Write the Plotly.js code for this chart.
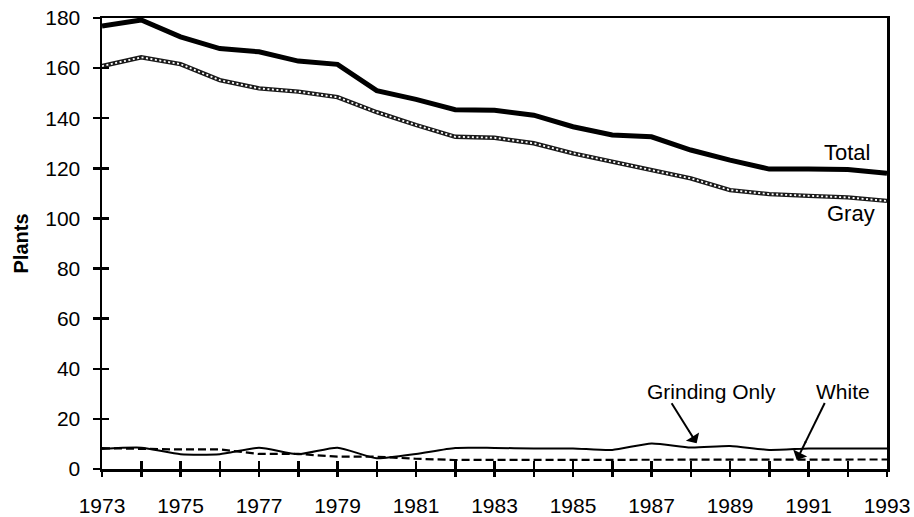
<!DOCTYPE html>
<html>
<head>
<meta charset="utf-8">
<script src="https://cdn.plot.ly/plotly-3.0.1.min.js"></script>
<style>html,body{margin:0;padding:0;background:#fff;}#chart{width:914px;height:517px;}</style>
</head>
<body>
<div id="chart"></div>
<script>
const years = [1973,1974,1975,1976,1977,1978,1979,1980,1981,1982,1983,1984,1985,1986,1987,1988,1989,1990,1991,1992,1993];
const total = [176.8,179.2,172.5,167.8,166.5,162.8,161.5,151,147.5,143.4,143.2,141.2,136.6,133.3,132.6,127.3,123.3,119.7,119.7,119.5,118];
const gray = [160.8,164.3,161.6,155.2,151.9,150.6,148.4,142.4,137.3,132.6,132.2,130,126,122.8,119.3,116,111.3,109.7,109,108.4,107];
const grindingOnly = [8.0,8.5,5.9,5.9,8.5,5.9,8.5,4.3,6.0,8.4,8.4,8.2,8.2,7.6,10.2,8.6,9.2,7.6,8.2,8.2,8.2];
const white = [8.3,8.0,7.8,7.8,6.0,6.0,4.9,4.9,4.1,3.6,3.6,3.8,3.8,3.8,3.8,3.8,3.8,3.8,3.8,3.8,3.8];
const tickLabels = years.map((y,i)=> i%2===0 ? String(y) : '');
const yTicks = [0,20,40,60,80,100,120,140,160,180];

const FONT = 'Liberation Sans, Arial, Helvetica, sans-serif';

const traces = [
  {x: years, y: white, mode:'lines', line:{color:'#000', width:2.2, dash:'8px,4px'}, hoverinfo:'skip', showlegend:false},
  {x: years, y: grindingOnly, mode:'lines', line:{color:'#000', width:2, shape:'spline', smoothing:0.6}, hoverinfo:'skip', showlegend:false},
  {x: years, y: gray, mode:'lines', line:{color:'#1a1a1a', width:4.4}, hoverinfo:'skip', showlegend:false},
  {x: years, y: gray, mode:'lines', line:{color:'#fff', width:1.8, dash:'2px,2.5px'}, hoverinfo:'skip', showlegend:false},
  {x: years, y: total, mode:'lines', line:{color:'#000', width:5}, hoverinfo:'skip', showlegend:false, xaxis:'x2', yaxis:'y2'}
];

// arrow geometry: tip in data units, tail offset in pixels
const pxPerYear = (887 - 102) / 20;
const pxPerUnit = (469 - 18) / 180;
const arrows = [
  {tipX:1988.15, tipY:10.3, dx:-25, dy:-40},
  {tipX:1990.7, tipY:3.6, dx:28, dy:-57}
];
const shapes = arrows.map(a => ({
  type:'line', xref:'x', yref:'y',
  x0: a.tipX + a.dx / pxPerYear, y0: a.tipY - a.dy / pxPerUnit,
  x1: a.tipX + 0.3 * a.dx / pxPerYear, y1: a.tipY - 0.3 * a.dy / pxPerUnit,
  line:{color:'#000', width:2}
}));
const arrowAnns = arrows.map(a => ({
  x:a.tipX, y:a.tipY, xref:'x', yref:'y', text:'', showarrow:true,
  ax:a.dx*0.35, ay:a.dy*0.35, arrowhead:1, arrowsize:1.3, arrowwidth:2, arrowcolor:'#000', standoff:0
}));

const textFont = {family:FONT, size:21, color:'#000'};

const layout = {
  width: 914, height: 517,
  margin: {l:102, r:27, t:18, b:48, pad:0},
  paper_bgcolor:'#fff', plot_bgcolor:'#fff',
  font: textFont,
  showlegend: false,
  xaxis: {
    range:[1973,1993], tickmode:'array', tickvals: years, ticktext: tickLabels,
    ticks:'outside', ticklen:5, tickwidth:2.5, tickcolor:'#000',
    showline:true, linewidth:2.5, linecolor:'#000', mirror:true,
    showgrid:false, zeroline:false, ticklabelstandoff:11,
    tickfont:textFont
  },
  xaxis2: {
    overlaying:'x', matches:'x', range:[1973,1993], tickmode:'array', tickvals: years,
    ticks:'inside', ticklen:8, tickwidth:2.5, tickcolor:'#000',
    showticklabels:false, showline:false, showgrid:false, zeroline:false, side:'bottom'
  },
  yaxis: {
    range:[0,180], tickmode:'array', tickvals: yTicks,
    ticks:'outside', ticklen:7, tickwidth:2.5, tickcolor:'#000',
    showline:true, linewidth:2.5, linecolor:'#000', mirror:true,
    showgrid:false, zeroline:false, ticklabelstandoff:8,
    tickfont:textFont,
    title:{text:'<b>Plants</b>', font:{family:FONT, size:20, color:'#000'}, standoff:12}
  },
  yaxis2: {
    overlaying:'y', matches:'y', range:[0,180], tickmode:'array', tickvals: yTicks,
    ticks:'inside', ticklen:7, tickwidth:2.5, tickcolor:'#000',
    showticklabels:false, showline:false, showgrid:false, zeroline:false, side:'left'
  },
  shapes: shapes,
  annotations: [
    {x:1991.97, y:126.2, xref:'x', yref:'y', text:'Total', showarrow:false, xanchor:'center', yanchor:'middle', font:{family:FONT,size:22,color:'#000'}},
    {x:1992.07, y:102.0, xref:'x', yref:'y', text:'Gray', showarrow:false, xanchor:'center', yanchor:'middle', font:{family:FONT,size:22,color:'#000'}},
    {x:1988.53, y:30.85, xref:'x', yref:'y', text:'Grinding Only', showarrow:false, xanchor:'center', yanchor:'middle', font:textFont},
    {x:1991.88, y:30.85, xref:'x', yref:'y', text:'White', showarrow:false, xanchor:'center', yanchor:'middle', font:textFont}
  ].concat(arrowAnns)
};

Plotly.newPlot('chart', traces, layout, {staticPlot:true, displayModeBar:false});
</script>
</body>
</html>
